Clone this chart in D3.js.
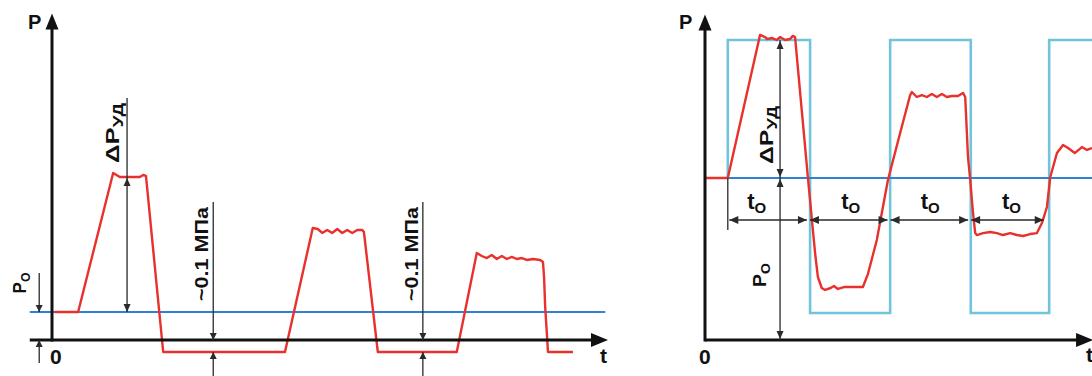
<!DOCTYPE html>
<html>
<head>
<meta charset="utf-8">
<script src="https://cdn.jsdelivr.net/npm/d3@7"></script>
<style>
  body { margin: 0; background: #fff; }
  text { font-family: "Liberation Sans", Arial, sans-serif; font-weight: bold; fill: #111; }
</style>
</head>
<body>
<div id="chart"></div>
<script>
var svgWidth = 1092;
var svgHeight = 376;

// ---- left diagram: time (arb. units), pressure (MPa) ----
var leftRed = [
  [0.5, 0.233], [4.7, 0.233], [11.0, 1.392], [12.2, 1.358], [15.8, 1.358], [16.4, 1.375], [16.9, 1.367],
  [20.0, -0.1], [41.9, -0.1],
  [46.9, 0.933], [47.8, 0.925], [48.6, 0.892], [49.5, 0.917], [50.4, 0.892], [51.3, 0.925], [52.2, 0.892],
  [53.1, 0.917], [54.0, 0.892], [54.9, 0.917], [55.8, 0.917], [56.1, 0.9],
  [58.6, -0.1], [72.8, -0.1],
  [76.4, 0.725], [77.3, 0.7], [78.2, 0.683], [79.1, 0.708], [80.0, 0.675], [80.9, 0.7], [81.8, 0.675],
  [82.7, 0.692], [83.6, 0.675], [84.5, 0.683], [85.4, 0.667], [86.5, 0.675], [87.8, 0.667], [88.3, 0.65],
  [88.5, 0.525], [88.7, 0.275], [89.0, 0.058], [89.2, -0.1], [93.7, -0.1]
];
var leftP0 = 0.233;
var leftLineT = [-4, 99.5];
var leftAxisT = [-4, 100];
var leftAxisTop = 2.72;
var leftDpT = 13.5, leftDpTop = 1.358, leftDpExt = 2.017;
var mpaT = [29.0, 66.7];
var mpaTop = 1.15;
var lowP = -0.1;
var leftP0T = -2.3;

// ---- right diagram: time (arb. units), pressure (% of P0) ----
var rightRed = [
  [0, 100], [4.1, 100], [9.9, 188.3], [10.8, 187.0], [11.2, 185.8], [12.1, 186.4], [12.9, 185.2], [13.5, 187.0],
  [14.4, 185.2], [15.3, 185.8], [15.8, 187.7], [16.2, 187.0],
  [18.5, 100.6], [19.8, 53.7], [20.3, 38.9], [21.0, 32.1], [21.6, 30.9], [22.6, 32.1], [23.2, 33.3], [23.9, 31.5],
  [25.0, 32.7], [26.8, 32.7], [28.4, 32.7], [29.3, 40.7],
  [30.9, 61.7], [32.9, 98.8], [35.1, 127.8], [36.9, 151.2], [37.2, 153.1], [38.1, 150], [39.0, 151.2],
  [39.9, 150], [40.8, 151.9], [41.7, 150], [42.6, 151.9], [43.5, 150], [44.4, 150.6], [45.5, 150.6],
  [46.4, 152.5], [46.8, 150],
  [47.3, 113], [47.7, 98.8], [48.2, 78.4], [48.6, 66], [48.9, 64.8], [50.0, 66], [51.3, 66.7], [52.5, 66],
  [53.6, 64.8], [54.9, 66], [56.1, 64.8], [57.2, 64.2], [58.5, 65.4], [59.7, 66],
  [60.6, 72.2], [61.5, 82.1], [62.1, 100.6], [63.3, 115.4], [64.4, 120.4], [65.3, 118.5], [66.5, 115.4],
  [67.8, 119.1], [68.7, 117.3], [69.6, 118.5]
];
var rightP0 = 100;
var waveEdges = [4.1, 18.9, 33.3, 47.8, 61.9];
var waveLow = 16.7, waveHigh = 185.2;
var rightEndT = 70;
var rightAxisTop = 201;
var rightDimT = 13.5;
var t0Bounds = [4.1, 18.6, 33.1, 47.6, 61.2];
var t0LabelT = [9.4, 26.3, 40.6, 55.2];
var t0Level = 74.1;
var t0ExtBottom = 67.9;

var red = "#e8302c", blue = "#2f82d2", cyan = "#72c4db", ink = "#111", dim = "#2a2a2a";

var svg = d3.select("#chart").append("svg")
  .attr("width", svgWidth)
  .attr("height", svgHeight);

svg.append("rect").attr("width", svgWidth).attr("height", svgHeight).attr("fill", "#fff");

//scales
var lx = d3.scaleLinear().domain([0, 100]).range([52, 608]);
var ly = d3.scaleLinear().domain([0, 1]).range([340, 220]);
var rx = d3.scaleLinear().domain([0, 70]).range([705, 1094.2]);
var ry = d3.scaleLinear().domain([0, 100]).range([340, 178]);

function arrowHead(g, x, y, dir, len, half, color) {
  var pts;
  if (dir == "up") pts = [[x, y], [x - half, y + len], [x + half, y + len]];
  else if (dir == "down") pts = [[x, y], [x - half, y - len], [x + half, y - len]];
  else if (dir == "left") pts = [[x, y], [x + len, y - half], [x + len, y + half]];
  else pts = [[x, y], [x - len, y - half], [x - len, y + half]];
  g.append("path").attr("d", "M" + pts.join("L") + "Z").attr("fill", color);
}

function seg(g, x1, y1, x2, y2, color, w) {
  g.append("line")
    .attr("x1", x1).attr("y1", y1).attr("x2", x2).attr("y2", y2)
    .attr("stroke", color).attr("stroke-width", w);
}

// rotated label with optional subscript
function rotLabel(g, x, y, main, sub, size, subSize, len) {
  var t = g.append("text")
    .attr("transform", `translate(${x}, ${y}) rotate(-90)`)
    .attr("text-anchor", "middle")
    .style("font-size", size + "px");
  t.append("tspan").text(main);
  if (sub) t.append("tspan").attr("dy", 4).style("font-size", subSize + "px").text(sub);
  if (len) t.attr("textLength", len).attr("lengthAdjust", "spacingAndGlyphs");
  return t;
}

function subLabel(g, x, y, main, sub, size, subSize) {
  var t = g.append("text").attr("x", x).attr("y", y).style("font-size", size + "px");
  t.append("tspan").text(main);
  t.append("tspan").attr("dy", 4).style("font-size", subSize + "px").text(sub);
  return t;
}

// ================= left diagram =================
var left = svg.append("g");

// base pressure line
seg(left, lx(leftLineT[0]), ly(leftP0), lx(leftLineT[1]), ly(leftP0), blue, 2);

// pressure curve
var leftLine = d3.line().x(d => lx(d[0])).y(d => ly(d[1]));
left.append("path").datum(leftRed)
  .attr("d", leftLine)
  .attr("fill", "none").attr("stroke", red).attr("stroke-width", 2.4).attr("stroke-linejoin", "round");

// axes
seg(left, lx(leftAxisT[0]), ly(0), lx(leftAxisT[1]) - 10, ly(0), ink, 3);
arrowHead(left, lx(leftAxisT[1]), ly(0), "right", 17, 7, ink);
seg(left, lx(0), ly(0) + 1.5, lx(0), ly(leftAxisTop) + 10, ink, 3);
arrowHead(left, lx(0), ly(leftAxisTop), "up", 16, 6.5, ink);
left.append("text").attr("x", 28).attr("y", 29).style("font-size", "20px").text("P");
left.append("text").attr("x", 50).attr("y", 364).style("font-size", "21px").text("0");
left.append("text").attr("x", 600).attr("y", 363).style("font-size", "21px").text("t");

// ΔP dimension
seg(left, lx(leftDpT), ly(leftDpExt), lx(leftDpT), ly(leftP0), dim, 1.3);
arrowHead(left, lx(leftDpT), ly(leftDpTop) + 1, "up", 8, 3.5, dim);
arrowHead(left, lx(leftDpT), ly(leftP0), "down", 8, 3.5, dim);
rotLabel(left, lx(leftDpT) - 8, 133, "ΔP", "УД", 19, 14, 60);

// P0 dimension
seg(left, lx(leftP0T), ly(0.558), lx(leftP0T), ly(leftP0), dim, 1.3);
arrowHead(left, lx(leftP0T), ly(leftP0), "down", 7, 3.5, dim);
seg(left, lx(leftP0T), ly(-0.192), lx(leftP0T), ly(0), dim, 1.3);
arrowHead(left, lx(leftP0T), ly(0), "up", 7, 3.5, dim);
rotLabel(left, lx(leftP0T) - 13, 283, "P", "O", 18, 13, 21);

// ~0.1 MPa dimensions
mpaT.forEach(function(t) {
  seg(left, lx(t), ly(mpaTop), lx(t), ly(0), dim, 1.3);
  arrowHead(left, lx(t), ly(0), "down", 7, 3.5, dim);
  seg(left, lx(t), ly(lowP), lx(t), svgHeight, dim, 1.3);
  arrowHead(left, lx(t), ly(lowP), "up", 7, 3.5, dim);
  rotLabel(left, lx(t) - 5, 254, "~0.1 МПа", null, 18, 0, 94);
});

// ================= right diagram =================
var right = svg.append("g");

// control square wave
var wave = [[waveEdges[0], rightP0]];
waveEdges.forEach(function(t, i) {
  var from = i % 2 == 0 ? waveLow : waveHigh;
  var to = i % 2 == 0 ? waveHigh : waveLow;
  if (i > 0) wave.push([t, from]);
  wave.push([t, to]);
});
wave.push([rightEndT, waveHigh]);
var rightLine = d3.line().x(d => rx(d[0])).y(d => ry(d[1]));
right.append("path").datum(wave)
  .attr("d", rightLine)
  .attr("fill", "none").attr("stroke", cyan).attr("stroke-width", 2.6);

// base pressure line
seg(right, rx(0), ry(rightP0), rx(rightEndT), ry(rightP0), blue, 2);

// pressure curve
right.append("path").datum(rightRed)
  .attr("d", rightLine)
  .attr("fill", "none").attr("stroke", red).attr("stroke-width", 2.4).attr("stroke-linejoin", "round");

// axes
seg(right, rx(0), ry(0), rx(rightEndT) - 10, ry(0), ink, 3);
arrowHead(right, rx(69.8), ry(0), "right", 17, 7, ink);
seg(right, rx(0), ry(0) + 1.5, rx(0), ry(rightAxisTop) + 10, ink, 3);
arrowHead(right, rx(0), ry(rightAxisTop), "up", 16, 6.5, ink);
right.append("text").attr("x", 679).attr("y", 29).style("font-size", "20px").text("P");
right.append("text").attr("x", 699).attr("y", 364).style("font-size", "21px").text("0");
right.append("text").attr("x", 1086).attr("y", 362).style("font-size", "21px").text("t");

// ΔP and P0 dimensions
seg(right, rx(rightDimT), ry(waveHigh), rx(rightDimT), ry(0), dim, 1.3);
arrowHead(right, rx(rightDimT), ry(waveHigh) + 1, "up", 8, 3.5, dim);
arrowHead(right, rx(rightDimT), ry(rightP0) - 1, "down", 8, 3.5, dim);
arrowHead(right, rx(rightDimT), ry(rightP0) + 1, "up", 8, 3.5, dim);
arrowHead(right, rx(rightDimT), ry(0) - 1, "down", 8, 3.5, dim);
rotLabel(right, rx(rightDimT) - 7, 135, "ΔP", "УД", 19, 14, 58);
rotLabel(right, rx(rightDimT) - 14, 275, "P", "O", 18, 13, 24);

// t0 dimensions
seg(right, rx(t0Bounds[0]), ry(rightP0), rx(t0Bounds[0]), ry(t0ExtBottom), dim, 1.3);
for (var i = 0; i < t0Bounds.length - 1; i++) {
  var a = rx(t0Bounds[i]) + 1.5, b = rx(t0Bounds[i + 1]) - 1.5;
  seg(right, a, ry(t0Level), b, ry(t0Level), dim, 1.5);
  arrowHead(right, a, ry(t0Level), "left", 9, 4, dim);
  arrowHead(right, b, ry(t0Level), "right", 9, 4, dim);
  subLabel(right, rx(t0LabelT[i]) - 10, 209, "t", "O", 22, 15);
}
</script>
</body>
</html>
